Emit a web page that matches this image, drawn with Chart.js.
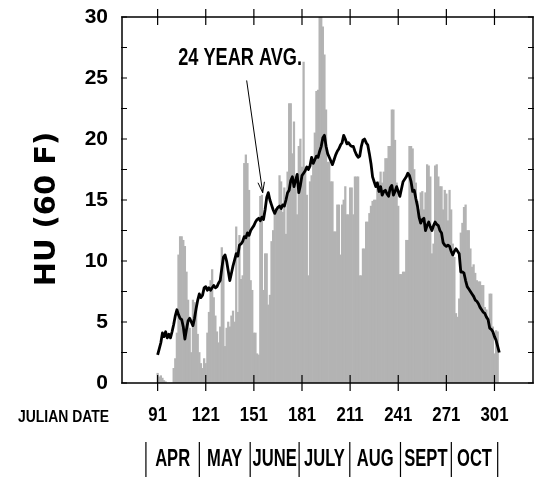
<!DOCTYPE html>
<html>
<head>
<meta charset="utf-8">
<script src="https://cdn.jsdelivr.net/npm/chart.js@4.4.0/dist/chart.umd.min.js"></script>
<style>
    html, body { margin: 0; padding: 0; background: #fff; }
</style>
</head>
<body>
<canvas id="huChart" width="534" height="477"></canvas>
<script>
// julian days 91..304, one bar per day
const firstDay = 91;
const dailyHU = [
    0.8, 0.5, 0.6, 0.4, 0.2, 0.1, 0, 0, 0, 0,
    1.2, 2.0, 4.1, 10.5, 12.0, 12.0, 11.7, 11.2, 9.1, 6.8,
    4.5, 2.5, 6.8, 6.6, 6.4, 4.0, 2.5, 1.6, 1.2, 2.0,
    1.6, 4.1, 5.8, 8.4, 9.3, 7.0, 5.5, 4.2, 3.3, 4.6,
    11.1, 10.2, 3.0, 4.5, 5.0, 4.6, 5.5, 5.9, 5.0, 12.8,
    5.8, 12.1, 8.5, 8.8, 18.0, 18.7, 18.0, 15.8, 8.4, 7.6,
    4.1, 4.1, 2.4, 2.3, 15.3, 15.4, 7.6, 10.6, 10.6, 6.4,
    7.2, 11.6, 12.5, 13.8, 14.3, 14.3, 17.0, 16.5, 14.0, 16.0,
    12.2, 17.3, 22.9, 22.9, 18.8, 21.4, 16.8, 13.8, 19.4, 20.0,
    17.7, 26.3, 17.7, 15.4, 8.8, 16.5, 17.0, 18.0, 20.5, 23.9,
    24.0, 30.0, 30.0, 29.2, 26.9, 22.4, 18.1, 18.1, 16.5, 16.5,
    12.4, 12.4, 14.6, 14.6, 10.5, 14.6, 15.0, 16.1, 13.8, 13.8,
    16.0, 16.0, 13.8, 16.9, 16.9, 16.9, 8.8, 8.8, 11.0, 11.0,
    13.2, 13.2, 13.9, 14.5, 14.9, 15.0, 15.0, 16.5, 16.5, 17.3,
    16.4, 17.3, 18.4, 18.4, 19.4, 19.4, 22.4, 22.4, 19.9, 16.4,
    14.5, 8.9, 8.9, 9.1, 9.1, 11.7, 11.7, 19.4, 19.4, 19.2,
    17.5, 16.4, 14.9, 14.2, 15.6, 15.7, 14.2, 15.6, 17.9, 17.8,
    16.9, 10.6, 11.4, 17.8, 17.9, 16.9, 16.1, 16.1, 14.2, 15.8,
    15.5, 13.3, 15.8, 14.2, 11.4, 10.3, 5.7, 5.4, 6.9, 12.3,
    13.1, 14.4, 14.6, 12.5, 12.5, 11.0, 9.5, 9.7, 9.0, 8.4,
    8.3, 8.3, 8.0, 8.0, 6.2, 6.0, 5.1, 7.3, 7.3, 4.6,
    2.4, 4.3, 4.2, 0
];
const avgHU = [
    2.3, 2.8, 3.3, 4.1, 3.8, 4.2, 3.7, 4.0, 3.7, 4.2,
    4.8, 5.5, 6.0, 5.6, 5.3, 5.2, 4.6, 3.6, 4.4, 5.1,
    5.3, 5.0, 4.7, 5.3, 6.1, 6.8, 7.3, 7.0, 7.2, 7.8,
    7.9, 7.6, 7.8, 7.6, 7.8, 8.0, 7.8, 7.9, 8.2, 8.4,
    9.4, 10.3, 10.5, 10.0, 9.2, 8.4, 9.0, 9.6, 10.1, 10.6,
    10.4, 11.3, 11.4, 11.6, 12.0, 11.9, 12.3, 12.1, 12.5, 12.7,
    12.9, 13.2, 13.4, 13.5, 13.3, 13.6, 13.4, 14.2, 15.2, 15.6,
    15.0, 14.6, 14.2, 13.9, 14.2, 14.4, 14.5, 14.3, 14.6, 14.5,
    15.0, 15.6, 15.8, 16.6, 16.9, 16.1, 16.6, 17.1, 15.6, 16.2,
    17.0, 17.2, 17.4, 17.7, 17.5, 17.8, 18.5, 18.0, 18.3, 18.6,
    18.5, 19.0, 19.4, 20.1, 20.3, 19.4, 18.8, 18.5, 18.2, 17.9,
    18.3, 18.7, 19.0, 19.2, 19.5, 19.7, 20.3, 20.0, 19.6, 19.7,
    19.5, 19.4, 19.4, 19.0, 18.7, 18.5, 18.6, 19.4, 19.9, 20.0,
    19.7, 19.5, 18.8, 18.0, 16.9, 16.5, 16.1, 16.4, 15.7, 16.1,
    15.4, 15.7, 15.8, 15.5, 15.3, 16.0, 16.2, 15.4, 15.7, 16.1,
    15.7, 15.3, 15.9, 16.5, 16.7, 16.9, 17.2, 17.0, 16.5, 15.7,
    15.8, 15.1, 14.5, 13.6, 13.1, 13.4, 13.5, 12.5, 12.9, 13.2,
    12.8, 12.5, 12.9, 13.2, 13.0, 12.9, 12.5, 12.3, 11.5, 11.3,
    11.2, 11.3, 11.2, 10.8, 10.5, 10.8, 11.0, 10.8, 10.6, 9.1,
    9.1, 9.0, 8.4, 7.9, 7.7, 7.5, 7.3, 7.1, 6.8, 6.7,
    6.5, 6.2, 6.0, 5.8, 5.7, 5.4, 5.2, 4.5, 4.4, 4.2,
    3.8, 3.5, 3.0, 2.5
];
const dayTicks = [91, 121, 151, 181, 211, 241, 271, 301];
const huTicks = [0, 5, 10, 15, 20, 25, 30];
const months = ["APR", "MAY", "JUNE", "JULY", "AUG", "SEPT", "OCT"];
const monthEdges = [83.7, 117, 148.7, 179.2, 210.8, 242.4, 274.1, 303];

const FONT = "'Liberation Sans', Arial, sans-serif";

const barPoints = dailyHU.map((v, i) => ({ x: firstDay + i, y: v }));
const linePoints = avgHU.map((v, i) => ({ x: firstDay + i, y: v }));

// bold text squeezed sideways, like the condensed face of the original
function narrowText(ctx, text, x, y, size, squeeze, align) {
    ctx.save();
    ctx.translate(x, y);
    ctx.scale(squeeze, 1);
    ctx.font = "bold " + size + "px " + FONT;
    ctx.textAlign = align;
    ctx.textBaseline = "middle";
    ctx.fillStyle = "#000";
    ctx.fillText(text, 0, 0);
    ctx.restore();
}

// frame, tick marks, month row and the labels around the plot
const decorations = {
    id: "decorations",
    afterDraw(chart) {
        const ctx = chart.ctx;
        const a = chart.chartArea;
        const x = chart.scales.x;
        const y = chart.scales.y;
        ctx.save();
        ctx.strokeStyle = "#000";
        ctx.lineWidth = 1.5;
        ctx.strokeRect(a.left, a.top, a.right - a.left, a.bottom - a.top);

        ctx.lineWidth = 1.2;
        ctx.beginPath();
        x.ticks.forEach(t => {
            const px = x.getPixelForValue(t.value);
            ctx.moveTo(px, a.top - 8); ctx.lineTo(px, a.top + 8);
            ctx.moveTo(px, a.bottom - 8); ctx.lineTo(px, a.bottom + 8);
        });
        for (let v = 0; v <= 30; v += 2.5) {
            const py = y.getPixelForValue(v);
            ctx.moveTo(a.left - 1, py); ctx.lineTo(a.left + 5, py);
            ctx.moveTo(a.right - 5, py); ctx.lineTo(a.right + 1, py);
        }
        ctx.stroke();

        // day labels under the axis
        x.ticks.forEach(t => {
            narrowText(ctx, String(t.value), x.getPixelForValue(t.value), 415, 21, 0.8, "center");
        });
        narrowText(ctx, "JULIAN DATE", 109, 418, 16, 0.87, "right");

        // month row
        ctx.lineWidth = 1.2;
        ctx.beginPath();
        monthEdges.forEach(d => {
            const px = x.getPixelForValue(d);
            ctx.moveTo(px, 442); ctx.lineTo(px, 477);
        });
        ctx.stroke();
        months.forEach((m, i) => {
            const mid = (x.getPixelForValue(monthEdges[i]) + x.getPixelForValue(monthEdges[i + 1])) / 2;
            narrowText(ctx, m, mid, 460, 23, 0.72, "center");
        });

        // y title
        ctx.save();
        ctx.translate(47, 209);
        ctx.rotate(-Math.PI / 2);
        ctx.textAlign = "center";
        ctx.textBaseline = "middle";
        ctx.fillStyle = "#000";
        ctx.font = "bold 29px 'DejaVu Sans', sans-serif";
        ctx.fillText("HU (60 F)", 0, 0);
        ctx.restore();

        // 24 year average note with arrow
        narrowText(ctx, "24 YEAR AVG.", x.getPixelForValue(142.4), y.getPixelForValue(26.6), 23, 0.79, "center");
        const x0 = x.getPixelForValue(146.5), y0 = y.getPixelForValue(24.8);
        const x1 = x.getPixelForValue(156.5), y1 = y.getPixelForValue(15.6);
        const ang = Math.atan2(y1 - y0, x1 - x0);
        ctx.lineWidth = 1;
        ctx.beginPath();
        ctx.moveTo(x0, y0); ctx.lineTo(x1, y1);
        ctx.moveTo(x1 - 11 * Math.cos(ang - 0.3), y1 - 11 * Math.sin(ang - 0.3));
        ctx.lineTo(x1, y1);
        ctx.lineTo(x1 - 11 * Math.cos(ang + 0.3), y1 - 11 * Math.sin(ang + 0.3));
        ctx.stroke();
        ctx.restore();
    }
};

const ctx = document.getElementById("huChart");

new Chart(ctx, {
    type: "bar",
    data: {
        datasets: [{
            type: "line",
            label: "24 year avg.",
            data: linePoints,
            borderColor: "#000",
            borderWidth: 2.8,
            pointRadius: 0,
            tension: 0,
            borderJoinStyle: "round",
            order: 0,
        }, {
            label: "HU",
            data: barPoints,
            backgroundColor: "#b3b3b3",
            borderWidth: 0,
            barPercentage: 1,
            categoryPercentage: 1,
            order: 1,
        }],
    },
    options: {
        responsive: false,
        animation: false,
        layout: {
            padding: { top: 17, right: 1, left: 0, bottom: 0 }
        },
        plugins: {
            legend: { display: false },
            tooltip: { enabled: false },
        },
        scales: {
            x: {
                type: "linear",
                min: 84.8,
                max: 309,
                afterBuildTicks: s => { s.ticks = dayTicks.map(v => ({ value: v })); },
                afterFit: s => { s.height = 94; s.paddingLeft = 0; s.paddingRight = 0; },
                grid: { display: false, drawTicks: false },
                border: { display: false },
                ticks: { display: false },
            },
            y: {
                min: 0,
                max: 30,
                afterBuildTicks: s => { s.ticks = huTicks.map(v => ({ value: v })); },
                afterFit: s => { s.width = 122; s.paddingTop = 0; s.paddingBottom = 0; },
                grid: { display: false, drawTicks: false },
                border: { display: false },
                ticks: {
                    color: "#000",
                    padding: 14,
                    font: { family: FONT, size: 21, weight: "bold" },
                },
            },
        },
    },
    plugins: [decorations]
});
</script>
</body>
</html>
